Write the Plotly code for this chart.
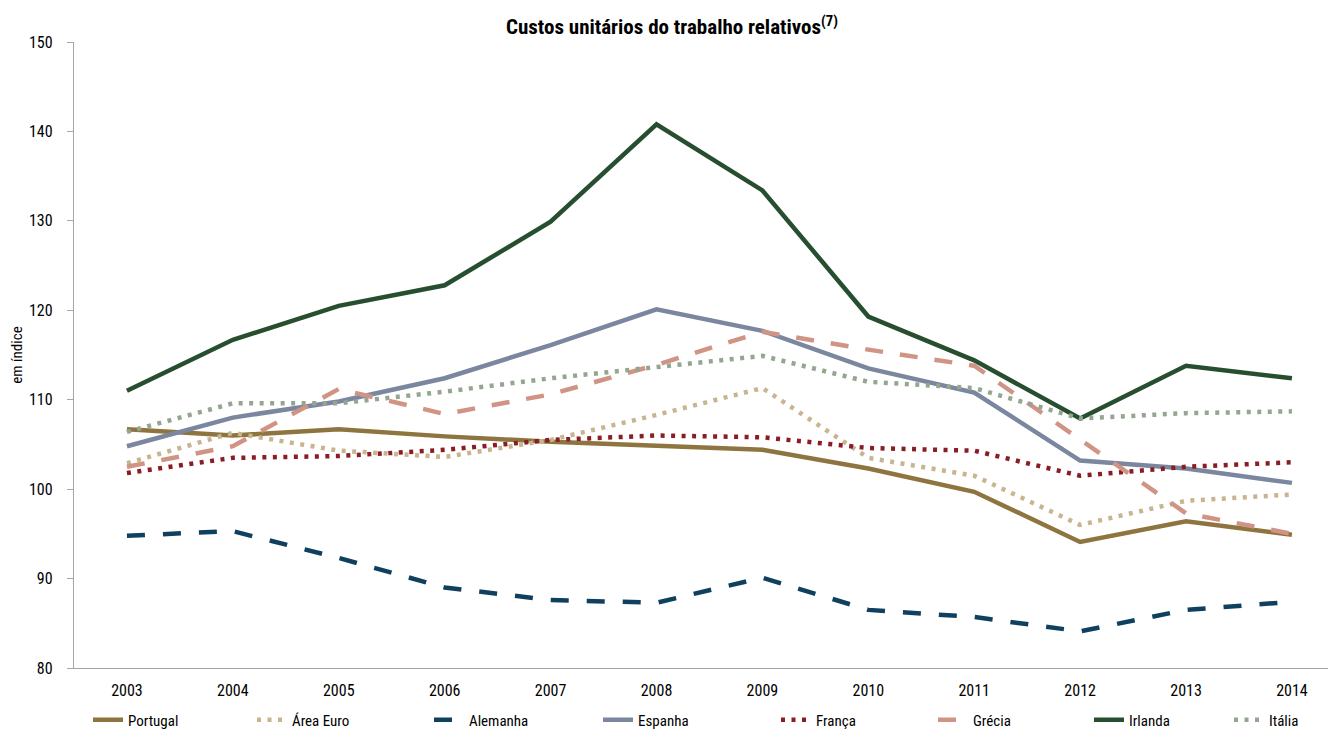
import plotly.graph_objects as go

years = ["2003", "2004", "2005", "2006", "2007", "2008", "2009", "2010", "2011", "2012", "2013", "2014"]

portugal = [106.7, 106.0, 106.7, 105.9, 105.3, 104.8, 104.4, 102.3, 99.7, 94.1, 96.4, 94.9]
area_euro = [102.9, 106.3, 104.3, 103.6, 105.5, 108.3, 111.3, 103.5, 101.5, 96.0, 98.7, 99.4]
alemanha = [94.8, 95.3, 92.3, 89.0, 87.6, 87.3, 90.1, 86.5, 85.7, 84.1, 86.5, 87.4]
espanha = [104.8, 108.0, 109.8, 112.4, 116.1, 120.1, 117.7, 113.5, 110.8, 103.2, 102.3, 100.7]
franca = [101.8, 103.5, 103.7, 104.4, 105.5, 106.0, 105.8, 104.6, 104.3, 101.5, 102.5, 103.0]
grecia = [102.5, 104.8, 111.2, 108.4, 110.6, 113.9, 117.6, 115.6, 113.8, 105.5, 97.3, 95.0]
irlanda = [111.0, 116.7, 120.5, 122.8, 129.9, 140.8, 133.4, 119.3, 114.4, 107.9, 113.8, 112.4]
italia = [106.4, 109.6, 109.6, 110.9, 112.4, 113.7, 114.9, 112.0, 111.3, 107.9, 108.5, 108.7]

series = [
    ("Portugal", portugal, "#8E7540", "solid", 4.5),
    ("Área Euro", area_euro, "#C8B48F", "4px,6.5px", 4.5),
    ("Alemanha", alemanha, "#0F405E", "18px,18px", 4.5),
    ("Espanha", espanha, "#7A879F", "solid", 4.5),
    ("França", franca, "#8A1C24", "4px,6.5px", 4.5),
    ("Grécia", grecia, "#D09384", "18px,17px", 4.5),
    ("Irlanda", irlanda, "#264E2F", "solid", 4.5),
    ("Itália", italia, "#94A68F", "4px,6.5px", 4.5),
]

# where each legend entry's text starts (page px)
legend_text_x = [129, 293, 470, 639, 817, 974, 1130, 1270]

FONT = "Liberation Sans Narrow, Arial Narrow, Roboto Condensed, Liberation Sans, Arial, sans-serif"

W, H = 1328, 721  # page body has an 8px margin

fig = go.Figure()
legend_layout = {}
for i, (name, vals, color, dash, w) in enumerate(series):
    key = "legend" if i == 0 else f"legend{i + 1}"
    fig.add_trace(go.Scatter(
        x=years, y=vals, name=name, mode="lines",
        line=dict(color=color, width=w, dash=dash),
        legend=key,
    ))
    legend_layout[key] = dict(
        orientation="h", xref="container", yref="container",
        x=(legend_text_x[i] - 49) / W, xanchor="left",
        y=1 - (720 - 8) / H, yanchor="middle",
        font=dict(family=FONT, size=15, color="#000000"),
        itemwidth=30, bgcolor="rgba(0,0,0,0)",
    )

fig.update_layout(
    width=W, height=H,
    margin=dict(l=66, r=0, t=34, b=61, autoexpand=False),
    paper_bgcolor="white", plot_bgcolor="white",
    font=dict(family=FONT, size=15, color="#000000"),
    title=dict(
        text="<b>Custos unitários do trabalho relativos</b><sup><b>(7)</b></sup>",
        x=0.5, xanchor="center", xref="container",
        y=1 - (27 - 8) / H, yanchor="middle",
        font=dict(family=FONT, size=21, color="#000000"),
    ),
    showlegend=True,
    xaxis=dict(
        type="category", range=[-0.5, 11.416],
        showline=True, linecolor="#A6A6A6", linewidth=1.3,
        showgrid=False, zeroline=False, ticks="",
        ticklabelstandoff=8,
        tickfont=dict(family=FONT, size=16, color="#000000"),
        fixedrange=True,
    ),
    yaxis=dict(
        range=[80, 150], dtick=10, tick0=80,
        showline=True, linecolor="#A6A6A6", linewidth=1.3,
        ticks="outside", ticklen=6, tickcolor="#A6A6A6", tickwidth=1.3,
        ticklabelstandoff=11,
        showgrid=False, zeroline=False,
        tickfont=dict(family=FONT, size=16, color="#000000"),
        title=dict(text="em índice", standoff=10,
                   font=dict(family=FONT, size=15, color="#000000")),
    ),
    **legend_layout,
)

fig.write_html("out.html")
